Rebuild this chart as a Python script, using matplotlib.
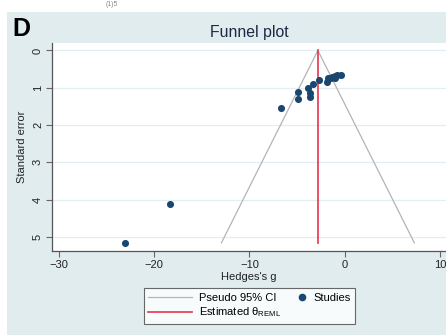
import numpy as np
import matplotlib.pyplot as plt
from matplotlib.lines import Line2D
from matplotlib.patches import Rectangle
from matplotlib.legend_handler import HandlerLine2D

plt.rcParams['font.family'] = ['Liberation Sans', 'DejaVu Sans']
plt.rcParams['mathtext.fontset'] = 'custom'
plt.rcParams['mathtext.rm'] = 'Liberation Sans'

# study effect sizes (Hedges's g) and their standard errors
hedges_g = [-23.0, -18.3, -6.7, -4.9, -4.9, -3.85, -3.7, -3.7, -3.3, -2.7,
            -1.9, -1.8, -1.5, -1.3, -1.05, -1.05, -0.8, -0.45]
std_err = [5.16, 4.11, 1.53, 1.11, 1.30, 1.02, 1.15, 1.24, 0.90, 0.80,
           0.84, 0.75, 0.73, 0.71, 0.69, 0.75, 0.66, 0.66]
theta_reml = -2.83

x_ticks = [-30, -20, -10, 0, 10]
y_ticks = [0, 1, 2, 3, 4, 5]

bg = '#e1ecef'
navy = '#1a476f'
red = '#e8344e'
grey = '#b4b4b4'


class MarkerAtRight(HandlerLine2D):
    # put the marker next to its label instead of in the middle of the handle box
    def create_artists(self, legend, orig_handle, xdescent, ydescent,
                       width, height, fontsize, trans):
        m = Line2D([-xdescent + width - 0.4 * fontsize], [-ydescent + height / 2],
                   ls='none', marker='o', color=orig_handle.get_color(),
                   markersize=orig_handle.get_markersize(), transform=trans)
        return [m]


fig = plt.figure(figsize=(4.46, 3.35), dpi=100)
fig.patch.set_facecolor('white')
# graph region panel
fig.add_artist(Rectangle((7 / 446, 0), 1, 1 - 12 / 335, transform=fig.transFigure,
                         facecolor=bg, edgecolor='none', zorder=0))
fig.text(106 / 446, 1 - 4 / 335, '(1)5', fontsize=5, color='#888888', va='center')

ax = fig.add_axes([52 / 446, 1 - 250.7 / 335, 1 - 52 / 446, (250.7 - 43) / 335])
ax.set_facecolor('white')

se_max = max(std_err)
ax.plot([theta_reml - 1.96 * se_max, theta_reml, theta_reml + 1.96 * se_max],
        [se_max, 0, se_max], color=grey, lw=0.9, zorder=2)
ax.plot([theta_reml, theta_reml], [0, se_max], color=red, lw=1.2, zorder=3)
ax.scatter(hedges_g, std_err, s=26, color=navy, zorder=4, linewidths=0)

ax.set_xlim(-30.7, 10.6)
ax.set_ylim(5.37, -0.2)
ax.set_xticks(x_ticks)
ax.set_yticks(y_ticks)
ax.set_yticklabels([str(v) for v in y_ticks], rotation=90, va='center')
ax.grid(axis='y', color='#e3eef2', lw=0.9)
ax.set_axisbelow(True)
for s in ['top', 'right']:
    ax.spines[s].set_visible(False)
for s in ['left', 'bottom']:
    ax.spines[s].set_color('#555555')
    ax.spines[s].set_linewidth(0.9)
ax.tick_params(labelsize=8, labelcolor='#222222', color='#666666', length=4,
               width=0.8, direction='out', pad=2.5)

ax.set_xlabel("Hedges's g", fontsize=8, color='#222222', labelpad=1.5)
ax.set_ylabel('Standard error', fontsize=8, color='#222222', labelpad=4)

fig.text(249 / 446, 1 - 32 / 335, 'Funnel plot', fontsize=11.4, color='#1c2a44',
         ha='center', va='center')
fig.text(12 / 446, 1 - 29 / 335, 'D', fontsize=18, fontweight='bold', ha='left', va='center')

ci_handle = Line2D([], [], color=grey, lw=0.9)
theta_handle = Line2D([], [], color=red, lw=1.2)
study_handle = Line2D([], [], ls='none', marker='o', color=navy, markersize=4.5)
leg = fig.legend([ci_handle, theta_handle, study_handle],
                 ['Pseudo 95% CI', r'Estimated θ$_{\mathrm{REML}}$', 'Studies'],
                 ncol=2, loc='center', bbox_to_anchor=(249.5 / 446, 1 - 306 / 335),
                 fontsize=8, frameon=True, fancybox=False, handlelength=3.9,
                 columnspacing=-1.6, handletextpad=0.63, labelspacing=0.28,
                 borderpad=0.4, handler_map={study_handle: MarkerAtRight()})
leg.get_frame().set_edgecolor('#444444')
leg.get_frame().set_linewidth(0.8)

fig.savefig('out.png', dpi=100, facecolor=fig.get_facecolor())
